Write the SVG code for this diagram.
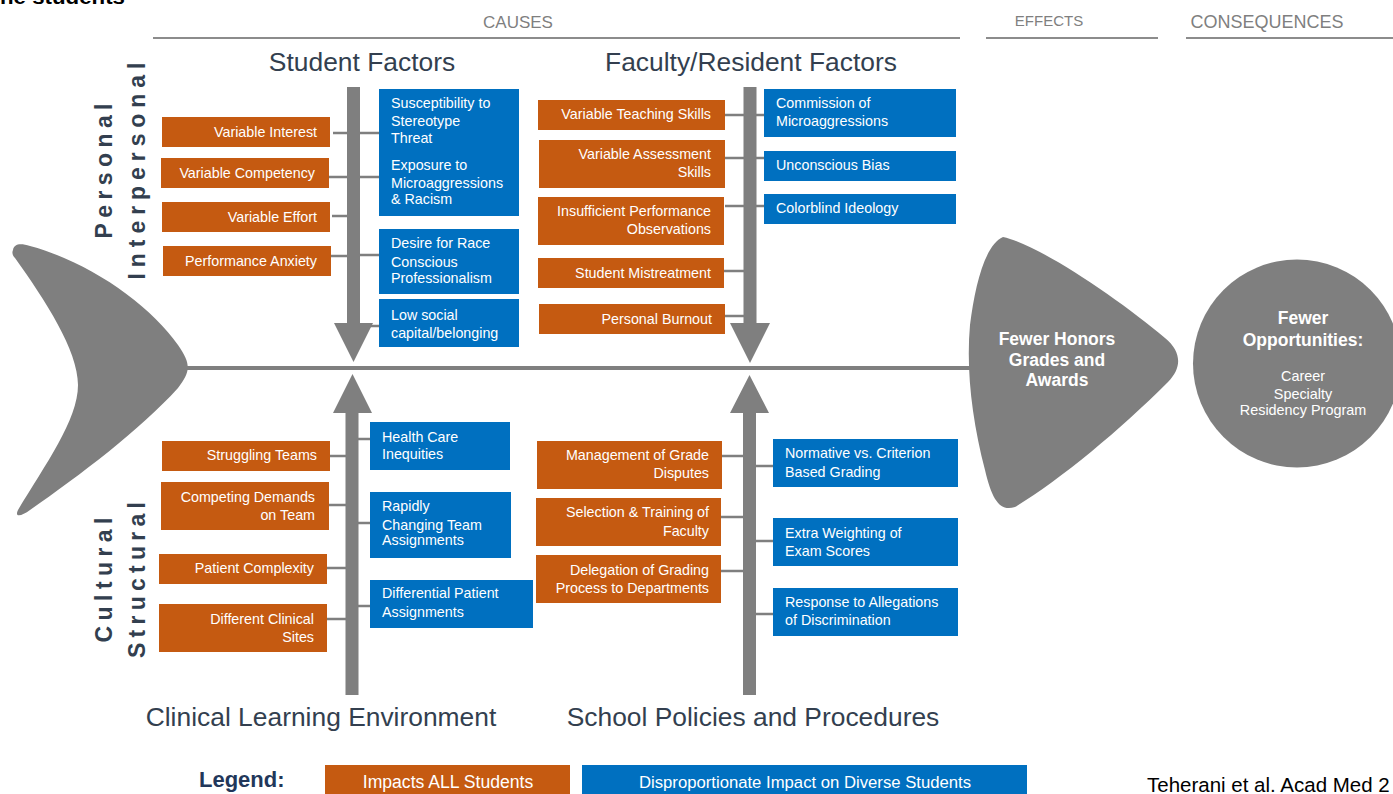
<svg xmlns="http://www.w3.org/2000/svg" width="1393" height="794" viewBox="0 0 1393 794">
<style>
.o{fill:#c55a11}
.b{fill:#0070c0}
.t{font-family:"Liberation Sans",Arial,sans-serif;font-size:14.3px;fill:#ffffff}
.r{text-anchor:end}
.g{fill:#7f7f7f}
.con line{stroke:#7f7f7f;stroke-width:2.5}
.ttl{font-family:"Liberation Sans",Arial,sans-serif;font-size:26.4px;fill:#333f4f}
.hdr{font-family:"Liberation Sans",Arial,sans-serif;fill:#7f7f7f}
.hl{stroke:#8c8c8c;stroke-width:2}
.vl{font-family:"Liberation Sans",Arial,sans-serif;font-weight:bold;font-size:23px;fill:#333f4f;text-anchor:middle}
.wb{font-family:"Liberation Sans",Arial,sans-serif;font-weight:bold;font-size:17.5px;fill:#ffffff;text-anchor:middle}
.wn{font-family:"Liberation Sans",Arial,sans-serif;font-size:14.4px;fill:#ffffff;text-anchor:middle}
</style>
<rect width="1393" height="794" fill="#ffffff"/>

<text x="0" y="4" font-family="Liberation Sans,Arial,sans-serif" font-weight="bold" font-size="20" fill="#000" textLength="125" lengthAdjust="spacingAndGlyphs">he students</text>

<g id="headers">
  <text class="hdr" x="518" y="28" font-size="17" text-anchor="middle">CAUSES</text>
  <line class="hl" x1="153" y1="38" x2="960" y2="38"/>
  <text class="hdr" x="1049" y="26" font-size="15" text-anchor="middle">EFFECTS</text>
  <line class="hl" x1="986" y1="38" x2="1158" y2="38"/>
  <text class="hdr" x="1267" y="28" font-size="18" text-anchor="middle">CONSEQUENCES</text>
  <line class="hl" x1="1186" y1="38" x2="1393" y2="38"/>
</g>

<g id="category-titles">
  <text class="ttl" x="362" y="71" text-anchor="middle">Student Factors</text>
  <text class="ttl" x="751" y="71" text-anchor="middle">Faculty/Resident Factors</text>
  <text class="ttl" x="321" y="726" text-anchor="middle">Clinical Learning Environment</text>
  <text class="ttl" x="753" y="726" text-anchor="middle">School Policies and Procedures</text>
</g>

<g id="side-labels">
  <text class="vl" transform="translate(112,171) rotate(-90)" textLength="135" lengthAdjust="spacing">Personal</text>
  <text class="vl" transform="translate(145,171) rotate(-90)" textLength="217" lengthAdjust="spacing">Interpersonal</text>
  <text class="vl" transform="translate(112,580) rotate(-90)" textLength="125" lengthAdjust="spacing">Cultural</text>
  <text class="vl" transform="translate(145,580) rotate(-90)" textLength="156" lengthAdjust="spacing">Structural</text>
</g>

<g id="fish-tail">
  <path class="g" d="M 13,250 C 14,244 20,243 30,246 C 90,262 150,305 178,345 C 192,365 190,372 178,388 C 140,430 80,475 30,510 C 22,516 14,518 18,510 C 45,465 78,420 78,385 C 78,350 45,300 15,258 C 12,255 12,252 13,250 Z"/>
</g>

<g id="bones">
  <line x1="180" y1="368" x2="980" y2="368" stroke="#7f7f7f" stroke-width="4"/>
  <polygon class="g" points="347,87 360,87 360,323 373,323 353.5,362 334,323 347,323"/>
  <polygon class="g" points="743.5,87 756.5,87 756.5,323 770,323 750,363 730,323 743.5,323"/>
  <polygon class="g" points="345.5,695 358.5,695 358.5,413 372,413 352.5,374 333,413 345.5,413"/>
  <polygon class="g" points="743,695 756,695 756,413 769,413 749.5,375 730,413 743,413"/>
</g>

<g id="connectors" class="con">
  <line x1="333" y1="133" x2="348" y2="133"/>
  <line x1="327" y1="177" x2="348" y2="177"/>
  <line x1="332" y1="216" x2="348" y2="216"/>
  <line x1="327" y1="256" x2="348" y2="256"/>
  <line x1="359" y1="133" x2="379" y2="133"/>
  <line x1="359" y1="177" x2="379" y2="177"/>
  <line x1="359" y1="255" x2="379" y2="255"/>
  <line x1="370" y1="326" x2="386" y2="326"/>
  <line x1="725" y1="115" x2="745" y2="115"/>
  <line x1="725" y1="158" x2="745" y2="158"/>
  <line x1="725" y1="206" x2="745" y2="206"/>
  <line x1="724" y1="271" x2="745" y2="271"/>
  <line x1="725" y1="316" x2="745" y2="316"/>
  <line x1="755" y1="115" x2="764" y2="115"/>
  <line x1="755" y1="158" x2="764" y2="158"/>
  <line x1="755" y1="206" x2="764" y2="206"/>
  <line x1="330" y1="456" x2="347" y2="456"/>
  <line x1="329" y1="505" x2="347" y2="505"/>
  <line x1="327" y1="568" x2="347" y2="568"/>
  <line x1="327" y1="619" x2="347" y2="619"/>
  <line x1="357" y1="439" x2="372" y2="439"/>
  <line x1="357" y1="523" x2="372" y2="523"/>
  <line x1="357" y1="606" x2="372" y2="606"/>
  <line x1="722" y1="456" x2="744" y2="456"/>
  <line x1="721" y1="517" x2="744" y2="517"/>
  <line x1="721" y1="571" x2="744" y2="571"/>
  <line x1="755" y1="466" x2="775" y2="466"/>
  <line x1="755" y1="541" x2="775" y2="541"/>
  <line x1="755" y1="614" x2="775" y2="614"/>
</g>

<g id="n-variable-interest"><rect class="o" x="162" y="117" width="168" height="30"/><text class="t r" x="317" y="137">Variable Interest</text></g>
<g id="n-variable-competency"><rect class="o" x="161" y="158" width="168" height="30"/><text class="t r" x="315" y="178">Variable Competency</text></g>
<g id="n-variable-effort"><rect class="o" x="162" y="202" width="168" height="30"/><text class="t r" x="317" y="222">Variable Effort</text></g>
<g id="n-performance-anxiety"><rect class="o" x="163" y="246" width="168" height="30"/><text class="t r" x="317" y="266">Performance Anxiety</text></g>

<g id="n-stereotype-threat"><rect class="b" x="379" y="89" width="140" height="64"/><text class="t" x="391" y="108">Susceptibility to</text><text class="t" x="391" y="126">Stereotype</text><text class="t" x="391" y="143">Threat</text></g>
<g id="n-exposure"><rect class="b" x="379" y="152" width="140" height="64"/><text class="t" x="391" y="170">Exposure to</text><text class="t" x="391" y="188">Microaggressions</text><text class="t" x="391" y="204">&amp; Racism</text></g>
<g id="n-race-conscious"><rect class="b" x="379" y="229" width="140" height="65"/><text class="t" x="391" y="248">Desire for Race</text><text class="t" x="391" y="267">Conscious</text><text class="t" x="391" y="283">Professionalism</text></g>
<g id="n-low-social"><rect class="b" x="379" y="299" width="140" height="48"/><text class="t" x="391" y="320">Low social</text><text class="t" x="391" y="338">capital/belonging</text></g>

<g id="n-teaching-skills"><rect class="o" x="538" y="100" width="187" height="30"/><text class="t r" x="711" y="119">Variable Teaching Skills</text></g>
<g id="n-assessment-skills"><rect class="o" x="539" y="140" width="186" height="48"/><text class="t r" x="711" y="159">Variable Assessment</text><text class="t r" x="711" y="177">Skills</text></g>
<g id="n-insufficient-obs"><rect class="o" x="538" y="197" width="186" height="48"/><text class="t r" x="711" y="216">Insufficient Performance</text><text class="t r" x="711" y="234">Observations</text></g>
<g id="n-mistreatment"><rect class="o" x="538" y="258" width="186" height="30"/><text class="t r" x="711" y="278">Student Mistreatment</text></g>
<g id="n-burnout"><rect class="o" x="539" y="304" width="186" height="30"/><text class="t r" x="712" y="324">Personal Burnout</text></g>

<g id="n-commission"><rect class="b" x="764" y="89" width="192" height="48"/><text class="t" x="776" y="108">Commission of</text><text class="t" x="776" y="126">Microaggressions</text></g>
<g id="n-unconscious-bias"><rect class="b" x="764" y="151" width="192" height="30"/><text class="t" x="776" y="170">Unconscious Bias</text></g>
<g id="n-colorblind"><rect class="b" x="764" y="194" width="192" height="30"/><text class="t" x="776" y="213">Colorblind Ideology</text></g>

<g id="n-struggling-teams"><rect class="o" x="162" y="441" width="168" height="30"/><text class="t r" x="317" y="460">Struggling Teams</text></g>
<g id="n-competing-demands"><rect class="o" x="161" y="482" width="168" height="48"/><text class="t r" x="315" y="502">Competing Demands</text><text class="t r" x="315" y="520">on Team</text></g>
<g id="n-patient-complexity"><rect class="o" x="159" y="554" width="168" height="30"/><text class="t r" x="314" y="573">Patient Complexity</text></g>
<g id="n-clinical-sites"><rect class="o" x="159" y="604" width="168" height="48"/><text class="t r" x="314" y="624">Different Clinical</text><text class="t r" x="314" y="642">Sites</text></g>

<g id="n-health-inequities"><rect class="b" x="370" y="422" width="140" height="48"/><text class="t" x="382" y="442">Health Care</text><text class="t" x="382" y="459">Inequities</text></g>
<g id="n-rapidly-changing"><rect class="b" x="370" y="492" width="141" height="66"/><text class="t" x="382" y="511">Rapidly</text><text class="t" x="382" y="530">Changing Team</text><text class="t" x="382" y="545">Assignments</text></g>
<g id="n-differential-patient"><rect class="b" x="370" y="580" width="163" height="48"/><text class="t" x="382" y="598">Differential Patient</text><text class="t" x="382" y="617">Assignments</text></g>

<g id="n-grade-disputes"><rect class="o" x="537" y="441" width="185" height="48"/><text class="t r" x="709" y="460">Management of Grade</text><text class="t r" x="709" y="478">Disputes</text></g>
<g id="n-selection-training"><rect class="o" x="536" y="498" width="185" height="48"/><text class="t r" x="709" y="517">Selection &amp; Training of</text><text class="t r" x="709" y="536">Faculty</text></g>
<g id="n-delegation"><rect class="o" x="536" y="555" width="185" height="48"/><text class="t r" x="709" y="575">Delegation of Grading</text><text class="t r" x="709" y="593">Process to Departments</text></g>

<g id="n-normative"><rect class="b" x="773" y="439" width="185" height="48"/><text class="t" x="785" y="458">Normative vs. Criterion</text><text class="t" x="785" y="477">Based Grading</text></g>
<g id="n-extra-weighting"><rect class="b" x="773" y="518" width="185" height="48"/><text class="t" x="785" y="538">Extra Weighting of</text><text class="t" x="785" y="556">Exam Scores</text></g>
<g id="n-allegations"><rect class="b" x="773" y="588" width="185" height="48"/><text class="t" x="785" y="607">Response to Allegations</text><text class="t" x="785" y="625">of Discrimination</text></g>

<g id="n-effect">
  <path class="g" d="M 1003,237 C 1040,245 1120,300 1165,338 C 1182,352 1182,368 1168,382 C 1120,430 1060,480 1015,507 C 1000,512 992,500 985,470 C 972,420 966,370 970,325 C 975,285 985,245 1003,237 Z"/>
  <text class="wb" x="1057" y="345">Fewer Honors</text>
  <text class="wb" x="1057" y="366">Grades and</text>
  <text class="wb" x="1057" y="386">Awards</text>
</g>

<g id="n-consequence">
  <circle class="g" cx="1297" cy="363.5" r="104"/>
  <text class="wb" x="1303" y="324">Fewer</text>
  <text class="wb" x="1303" y="346">Opportunities:</text>
  <text class="wn" x="1303" y="381">Career</text>
  <text class="wn" x="1303" y="399">Specialty</text>
  <text class="wn" x="1303" y="415">Residency Program</text>
</g>

<g id="legend">
  <text x="199" y="787" font-family="Liberation Sans,Arial,sans-serif" font-weight="bold" font-size="22" fill="#22375a">Legend:</text>
  <rect class="o" x="325" y="765" width="245" height="40"/>
  <text x="448" y="788" font-family="Liberation Sans,Arial,sans-serif" font-size="17.6" fill="#fff" text-anchor="middle">Impacts ALL Students</text>
  <rect class="b" x="582" y="765" width="445" height="40"/>
  <text x="805" y="788" font-family="Liberation Sans,Arial,sans-serif" font-size="16.7" fill="#fff" text-anchor="middle">Disproportionate Impact on Diverse Students</text>
</g>

<text x="1147" y="792" font-family="Liberation Sans,Arial,sans-serif" font-size="20.5" fill="#000">Teherani et al. Acad Med 2</text>
</svg>
